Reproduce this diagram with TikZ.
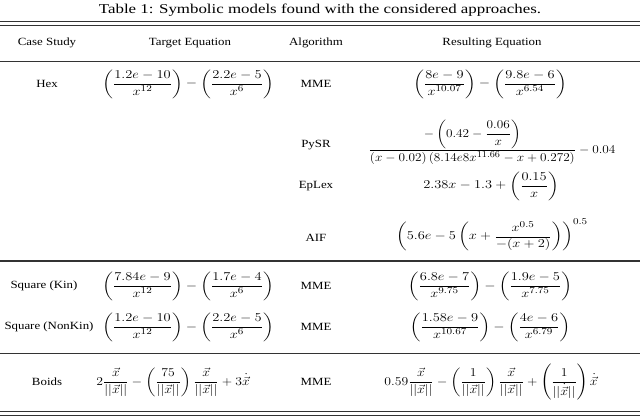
\documentclass[tikz,border=0pt]{standalone}
\usepackage{amsmath}
\usepackage{fontspec}
\setmainfont{Liberation Serif}
\begin{document}
\begin{tikzpicture}[x=1pt,y=-1pt,
  cell/.style={inner sep=0pt,font=\fontsize{11}{13}\selectfont,xscale=1.17,transform shape},
  eq/.style={inner sep=0pt,font=\fontsize{13}{15}\selectfont,xscale=1.2,transform shape},
  rule/.style={line width=0.8pt,black!80}]
\useasboundingbox (0,0) rectangle (640,417);
\node[inner sep=0pt,font=\fontsize{13.5}{15}\selectfont,xscale=1.25,transform shape] (title) at (320,10) {Table 1: Symbolic models found with the considered approaches.};
\draw[rule] (0,21) -- (640,21) (0,25) -- (640,25);
\node[cell] (h1) at (47,43) {Case Study};
\node[cell] (h2) at (190,43) {Target Equation};
\node[cell] (h3) at (316,43) {Algorithm};
\node[cell] (h4) at (492,43) {Resulting Equation};
\draw[rule] (0,61) -- (640,61);
% Hex
\node[cell] (c1) at (47,84) {Hex};
\node[eq] (t1) at (188,84) {$\displaystyle\left(\frac{1.2e-10}{x^{12}}\right)-\left(\frac{2.2e-5}{x^{6}}\right)$};
\node[cell] (a1) at (316,84) {MME};
\node[eq] (r1) at (490,84) {$\displaystyle\left(\frac{8e-9}{x^{10.07}}\right)-\left(\frac{9.8e-6}{x^{6.54}}\right)$};
\node[cell] (a2) at (316,145) {PySR};
\node[eq,xscale=0.92] (r2) at (492,142) {$\displaystyle\frac{-\left(0.42-\dfrac{0.06}{x}\right)}{(x-0.02)\left(8.14e8x^{11.66}-x+0.272\right)}-0.04$};
\node[cell] (a3) at (316,186) {EpLex};
\node[eq] (r3) at (491,186) {$\displaystyle 2.38x-1.3+\left(\frac{0.15}{x}\right)$};
\node[cell] (a4) at (316,238) {AIF};
\node[eq] (r4) at (492,235) {$\displaystyle\left(5.6e-5\left(x+\frac{x^{0.5}}{-(x+2)}\right)\right)^{0.5}$};
\draw[line width=1.3pt,black!80] (0,261) -- (640,261);
% Square
\node[cell] (c2) at (44,286) {Square (Kin)};
\node[eq] (t2) at (188,286) {$\displaystyle\left(\frac{7.84e-9}{x^{12}}\right)-\left(\frac{1.7e-4}{x^{6}}\right)$};
\node[cell] (a5) at (316,286) {MME};
\node[eq] (r5) at (490,286) {$\displaystyle\left(\frac{6.8e-7}{x^{9.75}}\right)-\left(\frac{1.9e-5}{x^{7.75}}\right)$};
\node[cell] (c3) at (49,327) {Square (NonKin)};
\node[eq] (t3) at (188,327) {$\displaystyle\left(\frac{1.2e-10}{x^{12}}\right)-\left(\frac{2.2e-5}{x^{6}}\right)$};
\node[cell] (a6) at (316,327) {MME};
\node[eq] (r6) at (490,327) {$\displaystyle\left(\frac{1.58e-9}{x^{10.67}}\right)-\left(\frac{4e-6}{x^{6.79}}\right)$};
\draw[rule] (0,353) -- (640,353);
% Boids
\node[cell] (c4) at (47,382) {Boids};
\node[eq,xscale=0.95] (t4) at (173,382) {$\displaystyle 2\frac{\vec{x}}{||\vec{x}||}-\left(\frac{75}{||\vec{x}||}\right)\frac{\vec{x}}{||\vec{x}||}+3\dot{\vec{x}}$};
\node[cell] (a7) at (316,382) {MME};
\node[eq,xscale=0.95] (r7) at (491,382) {$\displaystyle 0.59\frac{\vec{x}}{||\vec{x}||}-\left(\frac{1}{||\vec{x}||}\right)\frac{\vec{x}}{||\vec{x}||}+\left(\frac{1}{||\dot{\vec{x}}||}\right)\dot{\vec{x}}$};
\draw[rule] (0,411) -- (640,411) (0,415) -- (640,415);
\end{tikzpicture}
\end{document}
